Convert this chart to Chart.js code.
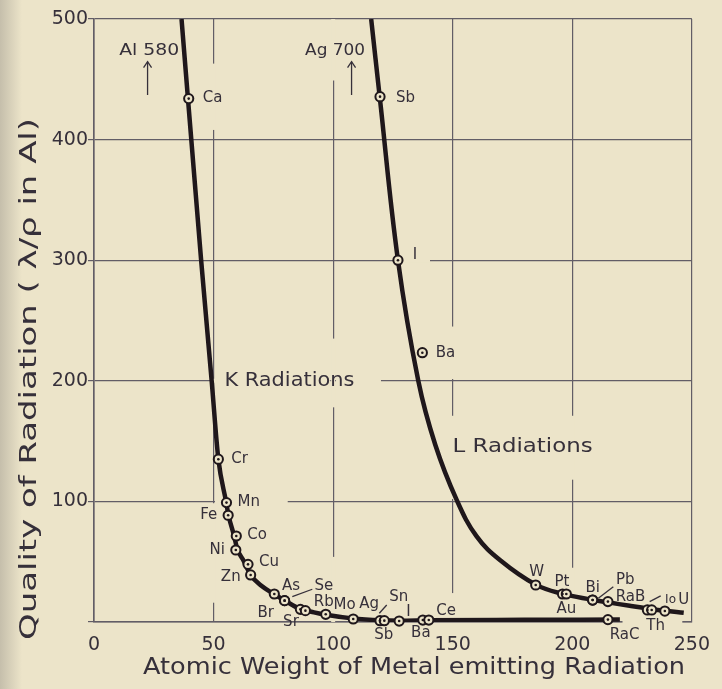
<!DOCTYPE html>
<html><head><meta charset="utf-8">
<script src="https://cdn.jsdelivr.net/npm/chart.js@4/dist/chart.umd.min.js"></script>
<style>html,body{margin:0;padding:0;background:#ebe3c8;}#wrap{width:722px;height:689px;}</style>
</head><body><div id="wrap"><canvas id="c" width="722" height="689"></canvas></div>
<script>
// ---------------- data ----------------
const xTickValues = [0, 50, 100, 150, 200, 250];
const yTickValues = [100, 200, 300, 400, 500];

// K radiation observed elements
const kElements = ['Ca','Cr','Mn','Fe','Co','Ni','Cu','Zn','As','Se','Br','Rb','Sr','Mo','Ag','Sn','Sb','I','Ba','Ce','RaC'];
const kWeight   = [39.6, 52.0, 55.4, 56.1, 59.5, 59.3, 64.4, 65.5, 75.4, 79.7, 79.7, 86.3, 88.4, 96.9, 108.4, 119.6, 121.4, 127.6, 137.5, 140.0, 214.9];
const kQuality  = [434, 135, 99, 88.5, 71.3, 59.7, 47.8, 39, 23.2, 17.7, 17.7, 10.5, 9.4, 6.4, 2.5, 1.1, 1.1, 0.8, 1.6, 1.6, 2.0];

// L radiation observed elements
const lElements = ['Sb','I','Ba','W','Pt','Au','Bi','Pb','RaB','Io','Th','U'];
const lWeight   = [119.6, 127.1, 137.3, 184.7, 195.9, 197.5, 208.5, 208.5, 214.9, 231.4, 233.2, 238.7];
const lQuality  = [435.6, 300, 223.3, 30.7, 23.2, 23.2, 18.2, 18.2, 16.9, 10, 10, 9.1];

// drawn curves
const kCurveX = [36.6, 44.8, 49.2, 52.0, 55.2, 56.3, 58.5, 60.0, 62.5, 65.5, 70.0, 75.4, 80.0, 86.0, 92.0, 97.0, 108.0, 120.0, 128.0, 140.0, 180.0, 219.9];
const kCurveY = [500, 300, 200, 135, 100, 88, 72, 60, 51, 39, 30, 23, 17.5, 11, 8, 6, 3, 1.4, 1.1, 1.5, 1.8, 2.0];
const lCurveX = [115.9, 119.5, 127.1, 135.6, 142.7, 151.7, 160.0, 170.0, 184.7, 196.0, 208.0, 215.0, 224.0, 232.0, 238.5, 246.6];
const lCurveY = [500, 435, 300, 200, 147, 101, 71, 51, 31, 23.3, 18.6, 16.3, 13.4, 11, 9.4, 7.7];

// annotations
const arrowNotes = [
  {text: 'Al 580', x: 23.1, y: 473.5, arrowX: 22.4, arrowFrom: 437, arrowTo: 464.6},
  {text: 'Ag 700', x: 100.8, y: 474, arrowX: 107.7, arrowFrom: 437, arrowTo: 464.6}
];
const regionNotes = [
  {text: 'K Radiations', x: 81.7, y: 200.2},
  {text: 'L Radiations', x: 179.2, y: 145.4}
];
const xTitle = 'Atomic Weight of Metal emitting Radiation';
const yTitle = 'Quality of Radiation ( \u03BB/\u03C1 in Al)';

// breaks in the ruled grid of the original drawing (value ranges)
const vGridGaps = [
  {x: 50,  from: 463, to: 408}, {x: 50, from: 98.5, to: 16},
  {x: 100, from: 500, to: 449}, {x: 100, from: 235, to: 178}, {x: 100, from: 54, to: 0},
  {x: 150, from: 245, to: 201.5}, {x: 150, from: 171, to: 102}, {x: 150, from: 24, to: 0},
  {x: 200, from: 171, to: 118}, {x: 200, from: 45, to: 0}
];
const hGridGaps = [
  {y: 300, from: 128.5, to: 140.5},
  {y: 200, from: 48.8, to: 98.8}, {y: 200, from: 101.2, to: 120},
  {y: 100, from: 50.6, to: 81},
  {y: 0, from: 221, to: 246}
];

// ---------------- label placement (pixel offsets, style) ----------------
const kLabelPos = {
  Ca:[14,0,'left'], Cr:[13,0,'left'], Mn:[11,0,'left'], Fe:[-11,0,'right'], Co:[11,-1,'left'],
  Ni:[-11,0,'right'], Cu:[11,-2,'left'], Zn:[-10,2,'right'], As:[7.6,-8,'left'], Se:[30,-14.7,'left'],
  Br:[-10.6,12.6,'right'], Rb:[13.4,-7.6,'left'], Sr:[-6.6,11,'right'], Mo:[7.7,-9.3,'left'],
  Ag:[6,-14.7,'left'], Sn:[9.3,-24,'left'], Sb:[-0.5,14.3,'center'], I:[7,-9,'left'],
  Ba:[-2,13,'center'], Ce:[7.4,-9.3,'left'], RaC:[1.7,15.7,'left']
};
const kLeaders = { Se:[7.7,-4,27.7,-11.4], Sn:[-0.7,-7.4,6.7,-15.7] };
const lLabelPos = {
  Sb:[16,1.6,'left'], I:[14.7,-5,'left'], Ba:[13.3,0,'left'], W:[1,-13.3,'center'],
  Pt:[-0.5,-12.3,'center'], Au:[0,15.3,'center'], Bi:[0,-11.7,'center'], Pb:[23.4,-20,'left'],
  RaB:[7.7,-4.4,'left'], Io:[17.7,-10,'left',12], Th:[4,16,'center'], U:[13.3,-11,'left']
};
const lLeaders = { Pb:[5.7,-1.7,20.7,-13.3], Io:[2.3,-8.3,13.3,-14] };

const INK = '#1f171b';
const TEXT = '#36303a';
const GRID = '#625d66';
const PAPER = '#ece4c9';
const FONT = '"DejaVu Sans", sans-serif';

const toPts = (xs, ys) => xs.map((x, i) => ({x, y: ys[i]}));
const kPts = toPts(kWeight, kQuality);
const lPts = toPts(lWeight, lQuality);

function fitText(ctx, text, x, y, size, align, target) {
  ctx.save();
  ctx.font = size + 'px ' + FONT;
  ctx.textBaseline = 'middle';
  if (target) {
    const w = ctx.measureText(text).width;
    const s = target / w;
    ctx.translate(x, y);
    ctx.scale(s, 1);
    ctx.textAlign = align;
    ctx.fillText(text, 0, 0);
  } else {
    ctx.textAlign = align;
    ctx.fillText(text, x, y);
  }
  ctx.restore();
}

const paperPlugin = {
  id: 'paper',
  beforeDraw(chart) {
    const c = chart.ctx;
    c.save();
    c.fillStyle = PAPER;
    c.fillRect(0, 0, chart.width, chart.height);
    const g = c.createLinearGradient(0, 0, 22, 0);
    g.addColorStop(0, 'rgba(150,145,135,0.45)');
    g.addColorStop(1, 'rgba(150,145,135,0)');
    c.fillStyle = g;
    c.fillRect(0, 0, 22, chart.height);
    c.restore();
  },
  beforeDatasetsDraw(chart) {
    const c = chart.ctx;
    const xs = chart.scales.x, ys = chart.scales.y;
    c.save();
    c.strokeStyle = PAPER;
    c.lineWidth = 4;
    c.lineCap = 'butt';
    vGridGaps.forEach(g => {
      const x = xs.getPixelForValue(g.x);
      c.beginPath(); c.moveTo(x, ys.getPixelForValue(g.from)); c.lineTo(x, ys.getPixelForValue(g.to)); c.stroke();
    });
    hGridGaps.forEach(g => {
      const y = ys.getPixelForValue(g.y);
      c.beginPath(); c.moveTo(xs.getPixelForValue(g.from), y); c.lineTo(xs.getPixelForValue(g.to), y); c.stroke();
    });
    c.restore();
  }
};

const notesPlugin = {
  id: 'notes',
  afterDatasetsDraw(chart) {
    const c = chart.ctx;
    const xs = chart.scales.x, ys = chart.scales.y;
    c.save();
    c.fillStyle = TEXT;
    c.strokeStyle = TEXT;
    c.lineWidth = 1.3;
    function labels(names, pts, pos, leaders) {
      names.forEach((n, i) => {
        const px = xs.getPixelForValue(pts[i].x), py = ys.getPixelForValue(pts[i].y);
        const p = pos[n];
        if (!p) return;
        fitText(c, n, px + p[0], py + p[1], p[3] || 15, p[2]);
        const ld = leaders[n];
        if (ld) {
          c.beginPath();
          c.moveTo(px + ld[0], py + ld[1]);
          c.lineTo(px + ld[2], py + ld[3]);
          c.stroke();
        }
      });
    }
    labels(kElements, kPts, kLabelPos, kLeaders);
    labels(lElements, lPts, lLabelPos, lLeaders);
    arrowNotes.forEach(a => {
      fitText(c, a.text, xs.getPixelForValue(a.x), ys.getPixelForValue(a.y), 16, 'center', 60);
      const ax = xs.getPixelForValue(a.arrowX);
      const y0 = ys.getPixelForValue(a.arrowFrom), y1 = ys.getPixelForValue(a.arrowTo);
      c.beginPath(); c.moveTo(ax, y0); c.lineTo(ax, y1); c.stroke();
      c.beginPath(); c.moveTo(ax - 4, y1 + 6); c.lineTo(ax, y1); c.lineTo(ax + 4, y1 + 6); c.stroke();
    });
    regionNotes.forEach((r, i) => {
      fitText(c, r.text, xs.getPixelForValue(r.x), ys.getPixelForValue(r.y), 20, 'center', i === 0 ? 130 : 140);
    });
    c.restore();
  },
  afterDraw(chart) {
    const c = chart.ctx;
    c.save();
    c.fillStyle = TEXT;
    fitText(c, xTitle, 414, 668, 23, 'center', 542);
    c.translate(30, 379);
    c.rotate(-Math.PI / 2);
    fitText(c, yTitle, 0, 0, 23, 'center', 522);
    c.restore();
  }
};

new Chart(document.getElementById('c'), {
  type: 'scatter',
  data: {
    datasets: [
      {type: 'line', data: toPts(kCurveX, kCurveY), borderColor: INK, borderWidth: 4.5, pointRadius: 0,
       cubicInterpolationMode: 'monotone', fill: false, order: 3},
      {type: 'line', data: toPts(lCurveX, lCurveY), borderColor: INK, borderWidth: 4.5, pointRadius: 0,
       tension: 0.4, fill: false, order: 3},
      {data: kPts, pointRadius: 4.6, pointBorderWidth: 2, pointBackgroundColor: PAPER, pointBorderColor: INK, order: 2, clip: false},
      {data: lPts, pointRadius: 4.6, pointBorderWidth: 2, pointBackgroundColor: PAPER, pointBorderColor: INK, order: 2, clip: false},
      {data: kPts.concat(lPts), pointRadius: 1.3, pointBorderWidth: 0, pointBackgroundColor: INK, order: 1, clip: false}
    ]
  },
  options: {
    responsive: false,
    animation: false,
    devicePixelRatio: 1,
    layout: {padding: {top: 19, right: 22, left: 0, bottom: 0}},
    plugins: {legend: {display: false}, tooltip: {enabled: false}},
    scales: {
      x: {
        type: 'linear', min: 0, max: 250,
        afterBuildTicks(s) { s.ticks = xTickValues.map(v => ({value: v})); },
        ticks: {font: {family: FONT, size: 19}, color: TEXT, padding: 12, maxRotation: 0},
        grid: {color: GRID, lineWidth: 1.2, drawTicks: false},
        border: {color: GRID, width: 1.6},
        afterFit(s) { s.height = 67; }
      },
      y: {
        min: 0, max: 500,
        afterBuildTicks(s) { s.ticks = [0].concat(yTickValues).map(v => ({value: v})); },
        ticks: {font: {family: FONT, size: 19}, color: TEXT, padding: 0, callback: v => v === 0 ? '' : v},
        grid: {color: GRID, lineWidth: 1.2, tickLength: 6},
        border: {color: GRID, width: 1.6},
        afterFit(s) { s.width = 94; }
      }
    }
  },
  plugins: [paperPlugin, notesPlugin]
});
</script>
</body></html>
